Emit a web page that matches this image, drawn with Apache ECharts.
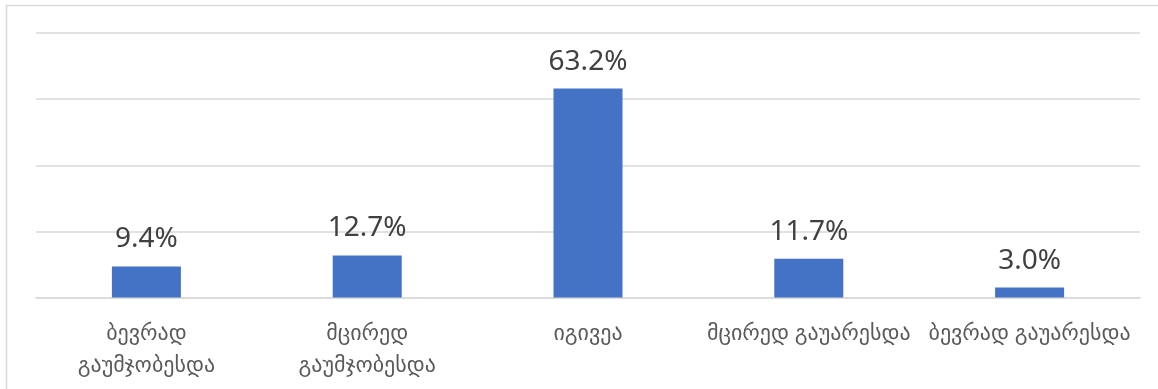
<!DOCTYPE html>
<html>
<head>
<meta charset="utf-8">
<script src="https://cdn.jsdelivr.net/npm/echarts@6/dist/echarts.min.js"></script>
<style>
html,body{margin:0;padding:0;background:#fff;}
#c{width:1158px;height:389px;}
</style>
</head>
<body>
<div id="c"></div>
<script>
const categories = ["ბევრად\nგაუმჯობესდა", "მცირედ\nგაუმჯობესდა", "იგივეა", "მცირედ გაუარესდა", "ბევრად გაუარესდა"];
const values = [9.4, 12.7, 63.2, 11.7, 3.0];
const yTicks = [0, 20, 40, 60, 80];

const chart = echarts.init(document.getElementById('c'), null, {renderer: 'canvas'});
chart.setOption({
  animation: false,
  backgroundColor: '#ffffff',
  graphic: [{
    type: 'rect',
    shape: {x: 6.5, y: 5.5, width: 1200, height: 500},
    style: {fill: 'none', stroke: '#d9d9d9', lineWidth: 1.5},
    silent: true
  }],
  grid: {left: 36, right: 18, top: 33, bottom: 91.5, containLabel: false},
  xAxis: {
    type: 'category',
    data: categories,
    axisLine: {lineStyle: {color: '#d9d9d9', width: 1.5}},
    axisTick: {show: false},
    axisLabel: {
      color: '#595959',
      fontFamily: 'Noto Sans, DejaVu Sans, sans-serif',
      fontSize: 22,
      lineHeight: 32,
      margin: 20,
      interval: 0
    }
  },
  yAxis: {
    type: 'value',
    min: yTicks[0],
    max: yTicks[yTicks.length - 1],
    interval: yTicks[1] - yTicks[0],
    axisLabel: {show: false},
    axisLine: {show: false},
    axisTick: {show: false},
    splitLine: {lineStyle: {color: '#d9d9d9', width: 1.5}}
  },
  series: [{
    type: 'bar',
    data: values,
    barWidth: 69,
    itemStyle: {color: '#4472C4'},
    label: {
      show: true,
      position: 'top',
      distance: 13,
      color: '#404040',
      fontFamily: 'Noto Sans, DejaVu Sans, sans-serif',
      fontSize: 28,
      formatter: p => p.value.toFixed(1) + '%'
    }
  }]
});
</script>
</body>
</html>
